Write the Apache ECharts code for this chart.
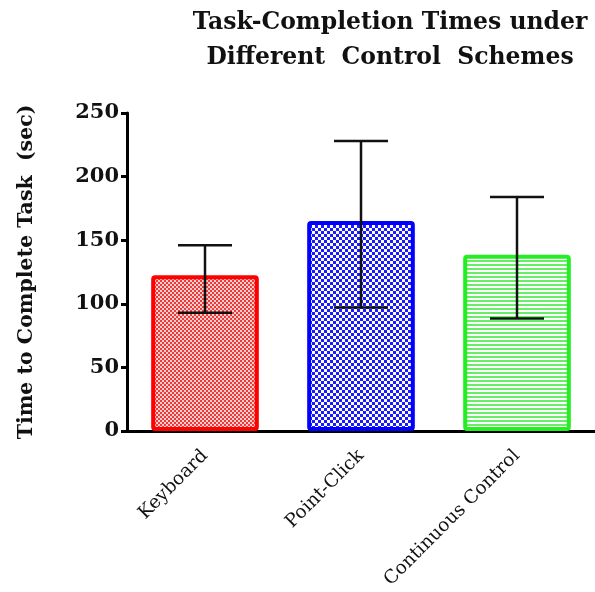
<!DOCTYPE html>
<html>
<head>
<meta charset="utf-8">
<script src="https://cdn.jsdelivr.net/npm/echarts@6/dist/echarts.min.js"></script>
<style>html,body{margin:0;padding:0;background:#fff;}#c{width:595px;height:592px;}</style>
</head>
<body>
<div id="c"></div>
<script>
var categories = ['Keyboard', 'Point-Click', 'Continuous Control'];
var means = [122.5, 165, 138.5];
var errLow = [93, 97, 88.5];
var errHigh = [146, 228, 184];
var yTicks = [0, 50, 100, 150, 200, 250];

function pat(kind) {
  var c = document.createElement('canvas');
  var ctx = c.getContext('2d');
  if (kind === 'red') {
    c.width = 4; c.height = 4;
    ctx.fillStyle = '#ffcccc'; ctx.fillRect(0, 0, 4, 4);
    ctx.fillStyle = '#ea3c3c';
    ctx.fillRect(0, 0, 2, 2); ctx.fillRect(2, 2, 2, 2);
  } else if (kind === 'blue') {
    c.width = 6; c.height = 6;
    ctx.fillStyle = '#ffffff'; ctx.fillRect(0, 0, 6, 6);
    ctx.fillStyle = '#1a1aff';
    ctx.fillRect(0, 0, 3, 3); ctx.fillRect(3, 3, 3, 3);
  } else {
    c.width = 4; c.height = 4;
    ctx.fillStyle = '#ffffff'; ctx.fillRect(0, 0, 4, 4);
    ctx.fillStyle = '#66ee66'; ctx.fillRect(0, 0, 4, 2);
  }
  return c;
}
var fills = [pat('red'), pat('blue'), pat('green')];
var borders = ['#ff0000', '#0000ff', '#22ee22'];

var chart = echarts.init(document.getElementById('c'), null, {renderer: 'canvas'});
var serif = 'DejaVu Serif';
chart.setOption({
  animation: false,
  title: {
    text: 'Task-Completion Times under\nDifferent  Control  Schemes',
    left: 385, top: 0, textAlign: 'center',
    textStyle: {fontFamily: serif, fontWeight: 'bold', fontSize: 23.5, color: '#111', lineHeight: 35}
  },
  grid: {left: 127, right: -6, top: 113, bottom: 161},
  xAxis: {
    type: 'category', data: categories,
    axisLine: {lineStyle: {color: '#000', width: 3}},
    axisTick: {alignWithLabel: true, length: 7, lineStyle: {color: '#000', width: 3}},
    axisLabel: {rotate: 45, margin: 22, fontFamily: serif, fontSize: 18.5, color: '#111', interval: 0}
  },
  yAxis: {
    type: 'value', min: 0, max: 250, interval: 50,
    name: 'Time to Complete Task  (sec)', nameLocation: 'middle', nameGap: 90,
    nameTextStyle: {fontFamily: serif, fontWeight: 'bold', fontSize: 20.5, color: '#111'},
    axisLine: {show: true, lineStyle: {color: '#000', width: 3}},
    axisTick: {show: true, length: 6, lineStyle: {color: '#000', width: 3}},
    axisLabel: {margin: 8, fontFamily: serif, fontWeight: 'bold', fontSize: 21, color: '#111',
      formatter: function (v) { return yTicks.indexOf(v) >= 0 ? String(v) : ''; }},
    splitLine: {show: false}
  },
  series: [{
    type: 'bar', barWidth: '69%',
    data: means.map(function (v, i) {
      return {value: v, itemStyle: {color: {image: fills[i], repeat: 'repeat'}, borderColor: borders[i], borderWidth: 4, borderRadius: 2}};
    }),
    z: 2
  }, {
    type: 'custom', z: 5,
    data: categories.map(function (c, i) { return [i, errLow[i], errHigh[i]]; }),
    renderItem: function (params, api) {
      var x = api.value(0);
      var lo = api.coord([x, api.value(1)]);
      var hi = api.coord([x, api.value(2)]);
      var hw = 27;
      var st = {stroke: '#111', lineWidth: 2.5};
      return {type: 'group', children: [
        {type: 'line', shape: {x1: lo[0], y1: lo[1], x2: hi[0], y2: hi[1]}, style: st},
        {type: 'line', shape: {x1: lo[0] - hw, y1: lo[1], x2: lo[0] + hw, y2: lo[1]}, style: st},
        {type: 'line', shape: {x1: hi[0] - hw, y1: hi[1], x2: hi[0] + hw, y2: hi[1]}, style: st}
      ]};
    }
  }]
});
</script>
</body>
</html>
